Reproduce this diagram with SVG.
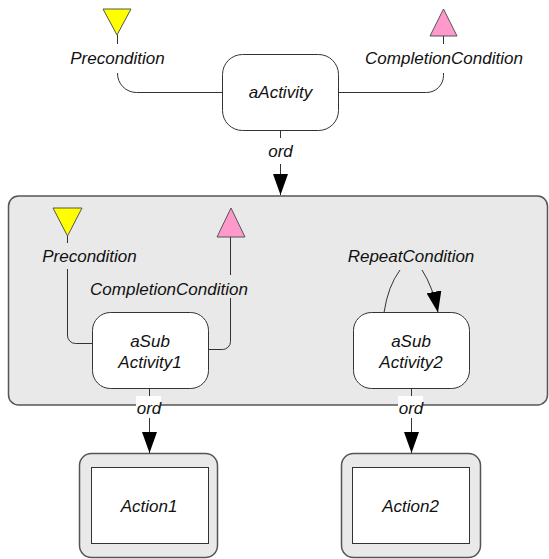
<svg xmlns="http://www.w3.org/2000/svg" width="549" height="559" viewBox="0 0 549 559">
<style>
text{font-family:"Liberation Sans",Arial,sans-serif;font-style:italic;font-size:17px;fill:#111;text-anchor:middle}
.line{fill:none;stroke:#333;stroke-width:1}
.act{fill:#fff;stroke:#333;stroke-width:1}
.cont{fill:#e9e9e9;stroke:#555;stroke-width:1.5}
.pre{fill:#ffff00;stroke:#555;stroke-width:1}
.post{fill:#ff99cc;stroke:#555;stroke-width:1}
</style>
<defs>
<marker id="arr" markerUnits="userSpaceOnUse" markerWidth="21" markerHeight="15" refX="21" refY="7.5" orient="auto">
<path d="M0,0 L21,7.5 L0,15 z" fill="#000"/>
</marker>
</defs>
<rect width="549" height="559" fill="#fff"/>
<g id="container">
<rect class="cont" x="8.5" y="196" width="539" height="209" rx="10"/>
</g>
<g id="aActivity">
<rect class="act" x="222.5" y="54.5" width="116" height="76" rx="20"/>
<text x="280.5" y="98">aActivity</text>
</g>
<g id="precondition-top">
<polygon class="pre" points="103,9 131,9 117,35"/>
<text x="117.5" y="64">Precondition</text>
</g>
<g id="completion-top">
<polygon class="post" points="430,36 457,36 443.5,9"/>
<text x="444" y="64">CompletionCondition</text>
</g>
<g id="aSubActivity1">
<rect class="act" x="92.5" y="312.5" width="116" height="76" rx="18"/>
<text x="150" y="347">aSub</text>
<text x="150" y="368">Activity1</text>
</g>
<g id="aSubActivity2">
<rect class="act" x="353.5" y="312.5" width="116" height="76" rx="18"/>
<text x="411" y="347">aSub</text>
<text x="411" y="368">Activity2</text>
</g>
<g id="precondition-inner">
<polygon class="pre" points="53,208 82,208 67.5,236"/>
<text x="89.5" y="262">Precondition</text>
</g>
<g id="completion-inner">
<polygon class="post" points="217,237 245,237 231,208"/>
<text x="169" y="295">CompletionCondition</text>
</g>
<g id="repeat-label">
<text x="411" y="262">RepeatCondition</text>
</g>
<g id="Action1">
<rect class="cont" x="79.5" y="453.5" width="138" height="104" rx="12"/>
<rect class="act" x="91.5" y="467.5" width="117" height="76"/>
<text x="149" y="512">Action1</text>
</g>
<g id="Action2">
<rect class="cont" x="341.5" y="453.5" width="139" height="104" rx="12"/>
<rect class="act" x="352.5" y="467.5" width="117" height="76"/>
<text x="410.5" y="512">Action2</text>
</g>
<g id="connectors">
<path class="line" d="M117.5,35 L117.5,44"/>
<path class="line" d="M117.5,73 A19,19 0 0 0 136.5,92.5 L222.5,92.5"/>
<path class="line" d="M443.5,36 L443.5,44"/>
<path class="line" d="M338.5,92.5 L426.5,92.5 A17,17 0 0 0 443.5,75.5 L443.5,73"/>
<path class="line" d="M280.5,130.5 L280.5,138"/>
<text x="280.5" y="157">ord</text>
<path class="line" d="M280.5,164 L280.5,195" marker-end="url(#arr)"/>
<path class="line" d="M67.5,236 L67.5,243"/>
<path class="line" d="M67.5,269 L67.5,335 A8,8 0 0 0 75.5,343.5 L92.5,343.5"/>
<path class="line" d="M208.5,349.5 L222.5,349.5 A8,8 0 0 0 230.5,341.5 L230.5,298"/>
<path class="line" d="M230.5,275 L230.5,237"/>
<path class="line" d="M384,312.5 Q388,286 400,270"/>
<path class="line" d="M422,270 Q433,287 438,312.5" marker-end="url(#arr)"/>
<path class="line" d="M149.5,388.5 L149.5,396"/>
<rect x="136" y="396" width="25" height="22" fill="#fff"/>
<text x="149" y="414">ord</text>
<path class="line" d="M149.5,418 L149.5,453" marker-end="url(#arr)"/>
<path class="line" d="M411.5,388.5 L411.5,396"/>
<rect x="398" y="396" width="25" height="22" fill="#fff"/>
<text x="411" y="414">ord</text>
<path class="line" d="M411.5,418 L411.5,453" marker-end="url(#arr)"/>
</g>
</svg>
